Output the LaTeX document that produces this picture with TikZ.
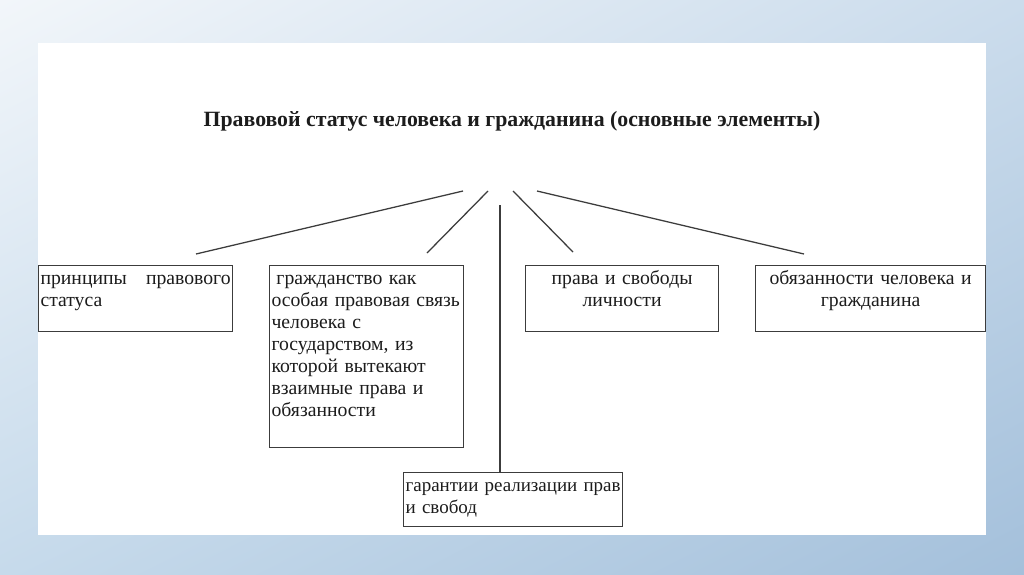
\documentclass[tikz,border=0pt]{standalone}
\usepackage{fontspec}
\setmainfont{Liberation Serif}
\usepackage{tikz}
\usetikzlibrary{positioning, shadings}

\definecolor{slidetl}{HTML}{F2F6FA}
\definecolor{slidetr}{HTML}{CBDCEC}
\definecolor{slidebl}{HTML}{C6DAEB}
\definecolor{slidebr}{HTML}{A4C0DB}
\definecolor{framegray}{HTML}{3C3C3C}
\definecolor{inkgray}{HTML}{1C1C1C}

\begin{document}
\begin{tikzpicture}[x=0.025cm, y=-0.025cm,
    elembox/.style={draw=framegray, line width=0.8pt, anchor=north west,
      inner xsep=0.05cm, inner ysep=0.075cm, text height=0.4cm,
      text=inkgray, font=\fontsize{14}{15.6}\selectfont},
    hubline/.style={draw=framegray, line width=0.9pt}]
  \useasboundingbox (0,0) rectangle (1024,574);
  % slide background and white sheet
  \shade[upper left=slidetl, upper right=slidetr, lower left=slidebl, lower right=slidebr]
    (0,0) rectangle (1024,574);
  \fill[white] (38,43) rectangle (986,535);

  % heading
  \node[anchor=base, text=inkgray, font=\fontsize{15.5}{18}\selectfont\bfseries] (title) at (512,126)
    {Правовой статус человека и гражданина (основные элементы)};

  % the five elements
  \node[elembox, text width=4.75cm, text depth=1.1cm, align=left] (principles) at (38,265)
    {принципы\hfill правового\\статуса};
  \node[elembox, text width=4.75cm, text depth=4.0cm, align=left] (citizenship) at (269,265)
    {\hspace*{0.25em}гражданство как\\особая правовая связь\\человека с\\государством, из\\которой вытекают\\взаимные права и\\обязанности};
  \node[elembox, text width=4.725cm, text depth=1.1cm, align=center] (rights) at (525,265)
    {права и свободы\\личности};
  \node[elembox, text width=5.65cm, text depth=1.1cm, align=center] (duties) at (755,265)
    {обязанности человека и\\гражданина};
  \node[elembox, text width=5.375cm, text depth=0.8cm, align=left,
    font=\fontsize{13.5}{15.6}\selectfont] (guarantees) at (403,472)
    {гарантии\hfill реализации\hfill прав\\и свобод};

  % fan of lines under the heading
  \coordinate (hubA) at (463,191);
  \coordinate (hubB) at (488,191);
  \coordinate (hubC) at (500,205);
  \coordinate (hubD) at (513,191);
  \coordinate (hubE) at (537,191);
  \coordinate (endA) at (196,254);
  \coordinate (endB) at (427,253);
  \coordinate (endD) at (573,252);
  \coordinate (endE) at (804,254);

  \draw[hubline] (hubA) -- (endA);
  \draw[hubline] (hubB) -- (endB);
  \draw[hubline] (hubC) -- (hubC |- guarantees.north);
  \draw[hubline] (hubD) -- (endD);
  \draw[hubline] (hubE) -- (endE);
\end{tikzpicture}
\end{document}
